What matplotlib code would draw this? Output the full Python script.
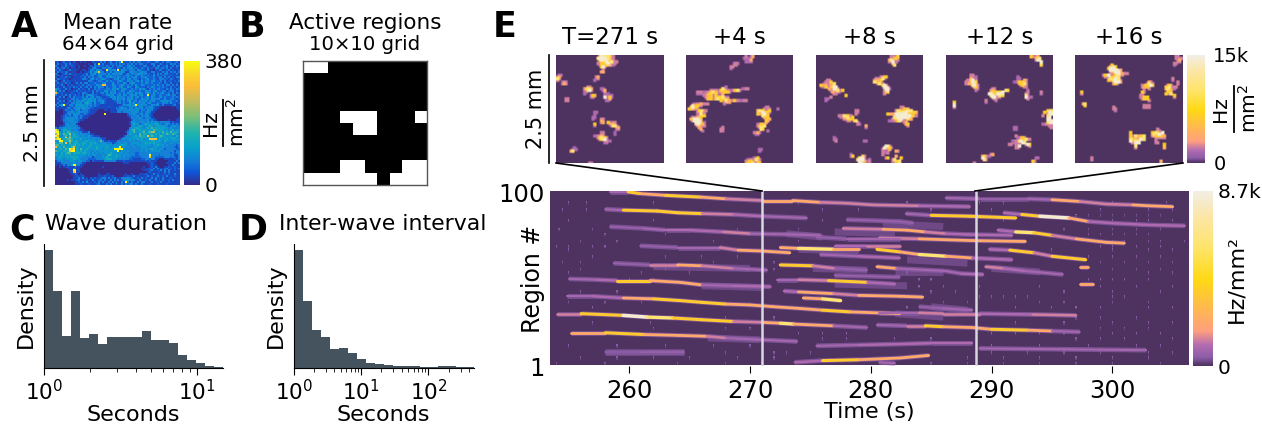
import numpy as np
import matplotlib
matplotlib.use("Agg")
import matplotlib.pyplot as plt
from matplotlib.colors import LinearSegmentedColormap, Normalize
from matplotlib.cm import ScalarMappable
from matplotlib.collections import LineCollection
from matplotlib.lines import Line2D

W, H = 1262, 425

# ---------- Panel A: mean rate, 64x64, digit 0-9 read by eye ----------
MEAN_RATE_ROWS = [
"1201311202100101000211131302311314912131413312132113311313321231",
"1311131311010000010031913111322313231324131331211331123112142312",
"3102131121101001002132322132131323312342311213311131331224113132",
"1312312011101000011342113324321132142334232132131213312323131121",
"2131101311110011013324431193334192433233314322131102133112312112",
"1312132011100101124245833132423333431134332343311331211323132313",
"3101231311211112313342433324243434312423334433322131313133212131",
"1312102011111131323412342243423232224342133242132242311321131211",
"2012131201111213132322342233433243232423342233422231233132312133",
"1321211011111133213423234322123342332342332132342232133322132112",
"3101312111211111133212332242322234322433234242332342223131221213",
"1312131201131313312232223422242132243134422232432322232132131121",
"2113102121112131232224338822243223432323242243222232422313313131",
"1211311213121312313132433132234223422432143222132432232322131212",
"4321131201113121131132322233243442343223232434213232342213232132",
"5131301112131212121313222442334122432243322322433234222331233121",
"8312111121112133211312133242434223232433243432353242323422313132",
"3112131312312131344322112234342234243234342342292342233223423312",
"1131301313222232423423321122434243332334234232342432234232223232",
"1311112133132234344342332211134243342434232243342433342242233212",
"1131301313234343444342334211112333232352332433423342223434332231",
"1312112133243424543242234211111133232243423334234222322333242212",
"3134921332344443433232211111111111243443494343422433411311112311",
"1313111232433443424232111112111113322243432432234321111000001011",
"1111113313344344332211111111111323433234243342333421100000000011",
"1100132232434233321111000110111133333343434233243311000000000001",
"0000113343234333321110000000111133233334343232343110000000000000",
"0000123424343223211100000900000000000233432342432100000000000000",
"0001232323432321110000000000000000000123334233342100000000000000",
"0001234343342311100000000000000000000013333432333110000000000001",
"0001333434232110000000000000000000000002433333342321000000100011",
"0000233343431000000000000000000000000014433343343434323333312111",
"0000134334310000000000000000000000000013544234544445433234323232",
"0011234343331000000000000000000000000004434543445434544443234433",
"3133443434433100000000000000000000000034455443454645454544343333",
"9724554433432110000000000000000000000145644545445465545444345344",
"9943546544343311130000000000000000001344644456456774454645464554",
"7954655745443433331100000000000000000354443645545545454546546543",
"9843564645544343343211100000000000013434454655485654456544444354",
"6945485754554444443343311100000000134344544455545445455454454543",
"8994556654444534343433331100000001343444445453448888454445445444",
"4499555754554444544443463112111133333343433444444554454354434443",
"5466484645554455445454344433312434344334444344545454444343343334",
"6645544555645454445444444444434344544334334444444344544434333323",
"8554645468454444454445444454344449343433433344433344433433333213",
"4455465989454644544445443444449999943333333343444544344323333322",
"6544555899454545443343444444444493443433333343433444443333333133",
"4445456645555455443434343444544434434333322333334333333333323233",
"5445454544544444343443334346544544343433322333339333323333333113",
"3454445455454433333133334454444544343332222233338332222233323213",
"3444344445544333322223333455544433333322111122332331100011111213",
"1334333444334433220211111333333111121111111111212111000000111131",
"1113343334433311000000000000000000011100000000011210000001111313",
"1011313349933110000000000000000000000000000000001211000000113111",
"0010112111311100000000001000000000000000000001001213100011211211",
"0000001113111000000000000000000000000000000010112131311123121213",
"0000000119911000000000000000000000000000000001112311213131311211",
"0000000118911000000000000000000000000000000000012111121131311111",
"0000000011310100000000100011000000001001000111211131211121211311",
"0000000001121120000000111211120000011211311111131211311213111211",
"0000000001113131102121123313123111333332112131211313121311121111",
"0000001011123111211311231311313131234433311311213113121311213111",
"0000000000112131411121313113131311319313113133111311213111211111",
"0000000000111211121112311131311311313233131131112111211112111111",
]
RATE_STEPS = [0, 27, 50, 76, 105, 140, 185, 235, 300, 375]

# ---------- Panel B: active-region cells (row from top, column) ----------
INACTIVE_CELLS = [(0, 0), (0, 1), (4, 3), (4, 4), (4, 5), (4, 9), (5, 4), (5, 5),
                  (8, 3), (8, 4), (8, 8), (8, 9),
                  (9, 0), (9, 1), (9, 2), (9, 3), (9, 4), (9, 5), (9, 7), (9, 8), (9, 9)]

# ---------- Panels C, D: histograms ----------
DURATION_EDGES = [1, 1.144, 1.309, 1.497, 1.713, 1.96, 2.242, 2.565, 2.934, 3.357, 3.84,
                  4.393, 5.026, 5.75, 6.578, 7.525, 8.609, 9.849, 11.27, 12.89, 14.75]
DURATION_DENSITY = [353, 230, 95, 230, 89, 101, 71, 92, 92, 92, 92, 110, 83, 83, 74, 38, 23, 14, 5, 2]
INTERVAL_EDGES = [1, 1.36, 1.85, 2.51, 3.42, 4.65, 6.32, 8.59, 11.7, 15.9, 21.6,
                  29.4, 40, 54.4, 73.9, 100.5, 136.7, 185.8, 252.6, 343.5, 467]
INTERVAL_DENSITY = [353, 200, 113, 92, 56, 59, 44, 26, 14, 11, 8, 5, 4, 3, 2, 2, 5, 5, 2, 2]

# ---------- Panel E snapshots: (row, first column, digits), blank = background ----------
SNAP_271 = [(0,25,"69 8 87 5"),(1,24,"89579886"),(2,25,"7988675 5"),(3,26,"56 9 78 45"),(4,24,"5 767 96545"),
 (5,25,"4 677 634"),(6,26,"795"),(7,27,"5"),(9,26,"66"),(12,23,"56"),(13,23,"45"),(14,22,"4"),
 (11,1,"44"),(12,0,"56"),(13,0,"85"),(14,0,"5"),(15,3,"454"),(16,3,"565"),
 (18,18,"55"),(19,16,"57876"),(20,16,"45795"),(21,16,"44"),(22,16,"4"),(23,20,"576"),(24,20,"45"),(25,5,"55"),(26,5,"55"),
 (19,26,"44"),(20,27,"46"),(21,28,"5"),(22,28,"4 3"),(23,28,"4 4 4"),(24,28,"9 574"),(25,29,"4 6"),(26,29,"44"),
 (33,22,"44"),(34,22,"4"),(36,21,"44"),(37,21,"4"),(37,26,"55"),(38,26,"65"),(39,26,"56"),(40,22,"7"),(41,22,"3"),
 (39,30,"7 455"),(40,31,"4665"),(41,32,"4884"),(42,35,"56"),(43,35,"45"),(45,34,"3"),(46,34,"3"),
 (45,26,"55"),(46,26,"45"),(47,22,"44556"),(48,24,"578 75"),(49,25,"57894"),(50,28,"4544"),(51,28,"44"),
 (54,10,"3"),(55,9,"443"),(56,8,"68"),(63,19,"55")]
SNAP_275 = [(0,35,"5  46"),(1,34,"4  34"),(2,36,"4 6"),(3,35,"44 4"),(4,28,"454"),(5,28,"55"),(6,26,"55"),(7,26,"4"),
 (18,23,"4"),(19,21,"85"),(19,33,"4455"),(20,14,"5 554 777 5 4 6785"),(21,6,"5 5 4 5 68765 547 75"),(22,6,"4 4 45 775 7 4 6"),
 (23,10,"5 6 7"),(24,11,"55 75 767 85 4 "),(25,12,"6775 78 6 7 6"),(26,20,"75 8 65 7 5 4 55"),(27,22,"5 66"),(28,4,"4 5 6 5 5"),(28,22,"4"),
 (29,3,"856755"),(30,2,"69775"),(31,1,"76655"),(32,7,"78655"),(33,6,"5 7 5"),(34,7,"5855"),(35,6,"4 5 7"),
 (36,3,"5 56 7"),(37,2,"6799965"),(38,3,"599996"),(39,5,"9997 4"),(40,5,"69756"),(41,6,"55 45"),(42,7,"65"),(43,8,"6"),(44,9,"4"),
 (30,47,"45"),(31,46,"5454"),(32,42,"68 755 7"),(33,43,"5 967 4"),(34,42,"76 6976"),(35,45,"8577"),(36,46,"6 7"),(37,48,"66"),(38,47,"76"),(39,47,"6"),
 (31,54,"4"),(40,42,"4476 "),(41,42,"567 8"),(42,43,"58 "),(43,44,"87"),(44,48,"4"),(45,40,"5 64"),(46,41,"44"),
 (42,21,"5"),(43,20,"55"),(44,20,"54"),(55,43,"44"),(56,43,"4"),
 (60,40,"447"),(61,36,"4 5 58 5"),(62,35,"5 77 5 6"),(63,36,"75 85 47")]
SNAP_279 = [(0,44,"5 5 7"),(1,44,"5 67 "),(2,43,"6855 5"),(3,43,"559 5"),(4,45,"6"),(5,46,"8"),
 (12,38,"5577"),(13,35,"5 5584"),(14,34,"566 7"),(15,34,"8766"),(16,36,"5855"),(17,39,"795"),(18,40,"995"),(19,40,"5994"),(20,41,"79"),(21,40,"567"),(22,40,"5"),
 (14,6,"55"),(15,5,"5557"),(16,4,"45 5668"),(17,2,"7 66 56 7"),(18,3,"4 75 5799"),(19,7,"65 965"),(20,8,"5 6 8 57"),(21,9,"65 54"),(22,10,"55"),(23,17,"7"),(24,8,"5"),(25,5,"44"),(26,5,"4"),
 (32,23,"55"),(33,24,"4"),(34,23,"5"),(35,13,"55 8 755"),(36,14,"4 6 8 57"),(37,16,"5 67 7"),(38,18,"45  68"),(39,24,"5"),(40,24,"54"),(41,29,"6"),(42,29,"4"),
 (48,10,"4"),(49,10,"44"),(50,11,"5"),(50,28,"44"),
 (30,50,"55"),(31,51,"5766"),(32,47,"587 6658 8"),(33,48,"5788 9 7 676"),(34,42,"7 66 99 9 98 6 7"),(35,46,"6 8 999 99 7 5"),(36,46,"8 9 999 976"),(37,45,"5 7 99 5 7 6"),(38,43,"44455785"),(39,52,"56"),(40,53,"67"),(41,54,"5"),
 (53,41,"985"),(54,40,"96 75"),(55,39,"5 4 6"),(56,47,"65"),(57,39,"54 5"),(58,20,"4"),(58,39,"5"),(59,20,"47"),(59,27,"75"),(59,47,"6"),
 (60,25,"7995"),(61,24,"89995  4"),(62,25,"99764 5"),(63,26,"86  44"),(60,41,"57"),(60,50,"7"),(61,45,"58"),(62,45,"5 678"),(63,46,"576")]
SNAP_283 = [(0,50,"7 5 6"),(1,53,"678"),(2,53,"595"),(3,56,"9"),(4,56,"8"),(5,56,"7"),
 (11,14,"55"),(12,14,"55 4"),(13,14,"65"),(14,12,"5 7955"),(15,11,"55 4987"),(16,11,"5 66876"),(17,15,"8955"),(18,16,"675"),(19,17,"54"),(20,17,"4"),
 (19,27,"55"),(20,26,"56"),(20,35,"87"),(21,26,"67 77 79"),(22,25,"99 7 99 8"),(23,26,"89 5 857"),(24,27,"99 55"),(25,28,"55"),(26,23,"5"),(26,29,"4"),(27,23,"4"),
 (12,42,"4"),(13,42,"44"),(14,46,"65"),(15,40,"3 57776"),(16,43,"67785"),(17,44,"575"),(18,46,"55"),
 (20,48,"4"),(21,48,"5"),(22,47,"5"),(23,47,"84"),(24,47,"94 4"),(25,48,"5"),(21,56,"5"),(22,56,"4"),
 (27,4,"7"),(28,4,"8"),(29,4,"9"),(30,4,"5"),
 (32,60,"7 8"),(33,58,"75 9"),(34,61,"89"),(35,57,"5  8"),(36,60,"89"),(37,60,"99"),(38,60,"899"),(39,60,"789"),(40,57,"4 5"),(41,61,"55"),(42,62,"5"),
 (42,40,"44"),(43,40,"44"),(47,41,"5"),(48,42,"4 675"),(49,46,"6855"),(50,39,"4 5 897"),(51,39,"4 5 5 98"),(52,37,"55"),(52,47,"597"),(53,41,"549 "),(53,49,"5"),(54,41,"55"),
 (58,26,"56"),(59,21,"675 4"),(60,21,"974"),(61,22,"85"),(63,16,"5"),(60,53,"44"),(62,51,"75"),(63,52,"5")]
SNAP_287 = [(0,59,"55"),(1,59,"55 5"),(2,60,"56"),(3,61,"5"),(4,58,"55"),(5,58,"4"),
 (5,21,"7"),(6,20,"6787"),(7,19,"79997"),(8,20,"99999 6"),(9,20,"46 9995"),(10,23,"589665 5"),(11,16,"57 9 5 767 5"),(12,17,"55 6 7785"),(13,19,"58 79 8"),(14,19,"76 8 8 4"),(15,22,"59 96"),(16,22,"675"),
 (15,43,"65"),(16,42,"5855"),(17,39,"5 74 97"),(18,39,"56 75"),(19,43,"5"),(20,40,"5"),(21,39,"75"),(22,39,"5"),(23,38,"55"),(24,38,"5 7 7"),(25,39,"57 7"),(26,43,"5"),(29,40,"5 55"),(30,40,"5 55"),
 (13,57,"5"),(14,57,"4"),(15,60,"5"),(16,60,"5"),(17,54,"575"),(18,53,"768 5 5"),(19,53,"6875 4"),(20,54,"576"),(21,54,"776"),(22,53,"75 8"),(23,58,"7"),(24,58,"5"),
 (21,3,"7"),(22,3,"5"),(28,4,"68"),(29,5,"7"),(30,22,"5"),(31,22,"55"),(32,23,"4"),
 (45,32,"7"),(46,32,"6"),(47,32,"7 58 67 8"),(48,32,"6 55 66"),(49,32,"8 7 6 9 8"),(50,32,"96 8 8"),(51,33,"5 9 9"),(52,35,"7"),(53,35,"8"),(54,35,"5"),
 (43,48,"5"),(44,48,"55"),(45,45,"7 87 59"),(46,45,"68 795"),(47,45,"56 7 7 6"),(48,48,"555 5"),(49,47,"5"),(50,47,"5"),(51,47,"45"),(52,52,"7"),(53,52,"7"),(54,52,"6"),
 (60,9,"5"),(61,9,"5"),(62,50,"6"),(63,50,"4")]
SNAPSHOT_TITLES = ["T=271 s", "+4 s", "+8 s", "+12 s", "+16 s"]
SNAPSHOTS = [SNAP_271, SNAP_275, SNAP_279, SNAP_283, SNAP_287]

# Colour value of each digit, as a share of the colour bar's top
LEVELS = [0, 0.05, 0.07, 0.09, 0.11, 0.15, 0.25, 0.42, 0.7, 0.95]

# ---------- Panel E raster waves: read knots (time s, row from top, level) ----------
WAVES = [
 [(258.4,0,3),(259.9,0,7),(260.9,1,6),(263,2,7),(265.9,3,6),(268,4,5),(271.1,5,6),(273.5,5,6),(275.8,6,5),(278,6.5,5),(280.2,7.5,5),(284,8,4),(288.2,8.5,3)],
 [(258,10,3),(259.5,10.5,7),(262.3,11,7),(264,12,7),(266,12.5,5),(268.6,13,4),(271,14,3),(274.7,15,2)],
 [(258.4,20,2),(261.2,21,3),(263,22,4),(265,22,4),(267.8,23,5),(270,24,3),(273.6,24.5,3),(275.8,25,2)],
 [(260.9,31,2),(264,32,3),(267.5,32,5),(269,33.5,6),(271,34,6),(273.3,35,4)],
 [(258.7,41,2),(261.7,42,5),(264,42,6),(266,42.5,5),(268.6,44,3),(271.4,45,2)],
 [(255,50,3),(257.3,50.5,4),(259,51,7),(261.7,51,6),(264.2,52,6),(266,53.5,3),(268.6,54,4),(271.7,54.5,4)],
 [(254.8,60,3),(257,60,4),(259.5,61,6),(262,61.5,7),(264.2,62.5,7),(266,63.5,7),(268,64.5,6),(270,65,6),(271.9,66,6),(274.1,67,6),(276,68,7),(278.3,69,6),(282.4,70,4)],
 [(254,70,5),(256,70,7),(259.5,71,9),(261.5,72,8),(263.6,72.5,7),(266,73.5,7),(268.6,74.5,5),(271,75,6),(272.5,75.5,8),(273.6,76,6),(276.9,77,3),(279.7,78,2)],
 [(255.2,81,6),(258,81,7),(261.2,82,6),(264,82.5,6),(266.4,83,5),(268,84,3),(270.8,85,3),(273.9,86,2)],
 [(258,92,1),(261,92,2),(264.5,92,2)],
 [(273.7,98,4),(276,97,7),(279,96.5,6),(282.4,95.5,6),(284.8,94,4)],
 [(280.7,98,3),(282,98.5,3)],
 [(280.5,76.5,3),(283,77,5),(284.5,77,7),(286,77.5,6),(288.4,78,6),(290,79,7),(293,79.5,6),(295,80,3),(297.3,80.5,2)],
 [(275.5,88.5,3),(279,88,4),(282.4,87.5,4),(285,87,4),(288.4,87,3)],
 [(289,90,3),(296,90.5,3),(302.8,91,2)],
 [(286.2,3.5,3),(289,4,2),(293,4,3),(295,4.5,6),(297.3,5.5,5),(299.5,7,5),(301.7,7.5,6),(303,8,6),(305,8.5,4)],
 [(282.9,12.5,3),(285,13.5,7),(288.2,14,7),(292,15,5)],
 [(291,12,4),(292.5,13,7),(294,14,9),(296.4,15,6),(298,17,4),(300,18,4),(303,19,4),(306,19.5,3)],
 [(277.7,21,5),(281,21.5,6),(283,22,6),(284.5,23,5),(286.2,24,4),(288,24.5,4),(291.7,25,3)],
 [(290.5,22,4),(292,23,8),(293.5,23.5,7),(295,25,5),(297,27,6),(299.5,29,6),(301,29.5,3)],
 [(280.7,26.5,5),(284,27,6),(288.4,28,6),(292.8,28.5,4)],
 [(272.5,32,6),(274,32.5,8),(276.9,33,6),(279,33,3)],
 [(277,31,4),(279.7,31,5),(282.4,31,5)],
 [(280.5,33,7),(282.4,34.5,6),(284,36,8),(286.2,37,6),(288.4,38,4),(291.7,39,2)],
 [(289.8,33,4),(291.5,33.5,7),(293.5,35,5),(295,37,7),(297.8,39,6)],
 [(275.8,36,3),(279,37,4),(282.4,38,3)],
 [(272.5,42,7),(275.2,42.5,5),(277,44,2),(279.7,45,2)],
 [(280.5,43,6),(282.1,44,3),(286.2,45.5,3),(287.5,47,4),(289.3,47.5,3)],
 [(289.5,43,5),(291,44,4),(292.8,45.5,3),(295.9,47.5,4)],
 [(272.2,50.5,3),(274,50.5,5),(276.5,51,7),(279.7,52,4),(282,53,3)],
 [(277,48,2),(282.4,49,3)],
 [(272.8,57,4),(274,57.5,6),(276.9,58.5,5),(279,59.5,6),(282.4,60,6),(284.3,60.5,3)],
 [(274.4,61,6),(276,61.5,8),(277.5,62.5,5)],
 [(284,66,2),(286,67,3),(288.4,68,3)],
 [(280.7,69.5,3),(284,69.5,5),(286,70,5),(289,70,4),(293.4,70.5,5),(297,71,2)],
 [(275.5,26,2),(278,27,3),(282.4,27,5)],
 [(278,16,2),(282.4,17,2),(283.5,18,2)],
 [(297.3,43,6),(298,43,5)],
 [(297.3,53,6),(298.4,53,5)],
]
# Wide faint purple patches around the streaks: (t0, row0, t1, row1)
FUZZ_BANDS = [(275.2,44,279.7,45),(274,33,279,34),(277,53,283,54),(282,46,286,46),(258,92,264.5,92),
              (266.5,84,270.8,85),(282,70,286,72),(273,24,276,26),(283,39,288,41),(277,23,282,24),
              (266,54,271,55),(262,43,270,44),(290,44,294,46),(281,18,286,20),(285,66,288,68)]
# Faint specks in the raster: (row from top, times in s)
SPECK_ROWS = [
 (6,[255,256.5,262,274,277,283,289,291,300,304.5]), (10,[254.5,256.5,276,279,285,290,299,303,305]),
 (13,[297,298,299,300,301,302,303,304]), (16,[255,262,276,291,298,300,302,303,305]),
 (21,[254.2,257,269,274,296,298,300,302,304]), (24,[258,263,272,298,299,300,301,302,303]),
 (28,[256,259,267,274,300,301,303,304,306]), (31,[254,255,257,258,299,300,302,304]),
 (33,[255,295,300,303,305]), (37,[257,263,266,269,298,300,302,304]), (40,[254.5,256,267,272,299,301,303,305]),
 (44,[256,263,272,300,302,304]), (46,[255,261,265,283,303,305]), (50,[260,262,284,285,298,299,300,301,303]),
 (54,[284,286,289,294,299,302,305]), (57,[256,259,285,287,296,300,304]), (60,[289,290,291,292,293,300,301]),
 (63,[255,258,261,286,288,294,296,300,303]), (66,[257,283,292,295,297,299,303,305]),
 (72,[264,268,272,297,299,302]), (75,[257,261.8,292,296,300,303,305]), (78,[262,268,270,299,301,303]),
 (81,[274,276,278,290,292,294,296,300,302,304]), (84,[276,278,282,285,297,299,301,305]),
 (88,[255,259,263,267,270,290,294,298,302,304]), (92,[268,272,273,275,290,293,296,299,303,305]),
 (95,[256,259,262,265,269,272,288,291,294,297,300,303]), (98,[254,258,264,268,271,285,288,291,294,297,300,304]),
]
TICKS_T = [260, 270, 280, 290, 300]
SNAPSHOT_WINDOW_S = [271.02, 288.7]

# ---------- Helpers ----------
def rect(x0, y0, x1, y1):
    return [x0 / W, 1 - y1 / H, (x1 - x0) / W, (y1 - y0) / H]

def fx(x):
    return x / W

def fy(y):
    return 1 - y / H

parula = LinearSegmentedColormap.from_list("parula_like", [
    (0.0, "#352a87"), (0.1, "#0f55d8"), (0.2, "#1480d6"), (0.3, "#07a0cc"), (0.42, "#1fb3ad"),
    (0.55, "#7bbf7a"), (0.68, "#c5bc5c"), (0.8, "#fbbd3a"), (0.9, "#f8d82a"), (1.0, "#f9fb0e")])
heat = LinearSegmentedColormap.from_list("heat_like", [
    (0.0, "#4e3360"), (0.012, "#5a3a6e"), (0.045, "#8a5ca6"), (0.12, "#b56cb0"), (0.2, "#ff9f7d"),
    (0.3, "#ffb35a"), (0.49, "#ffd814"), (0.67, "#ffe468"), (0.86, "#fbe6a8"), (1.0, "#f1eee5")])
BAR = "#45535e"

fig = plt.figure(figsize=(W / 100, H / 100), dpi=100)

# Panel A
axA = fig.add_axes(rect(55, 61, 180, 185))
mean_rate = np.array([[RATE_STEPS[int(c)] for c in r.ljust(64, "1")[:64]] for r in MEAN_RATE_ROWS], dtype=float)
axA.imshow(mean_rate, cmap=parula, vmin=0, vmax=380, aspect="auto", interpolation="nearest")
axA.axis("off")
caxA = fig.add_axes(rect(184, 61, 200, 185))
cb = fig.colorbar(ScalarMappable(Normalize(0, 380), parula), cax=caxA)
cb.outline.set_visible(False)
cb.set_ticks([0, 380], labels=["0", "380"])
cb.ax.tick_params(length=0, labelsize=14.5, pad=3)

# Panel B
axB = fig.add_axes(rect(303, 61, 427, 185))
active = np.zeros((10, 10))
for r_, c_ in INACTIVE_CELLS:
    active[r_, c_] = 1
axB.imshow(active, cmap="gray", vmin=0, vmax=1, aspect="auto", interpolation="nearest")
axB.set_xticks([])
axB.set_yticks([])
for s in axB.spines.values():
    s.set_color("#555555")
    s.set_linewidth(1.0)

# Panels C, D
def hist_panel(box, edges, heights):
    ax = fig.add_axes(rect(*box))
    ax.stairs(np.array(heights) / heights[0], edges, fill=True, color=BAR)
    ax.set_xscale("log")
    ax.set_xlim(1, edges[-1])
    ax.set_ylim(0, 1.048)
    ax.set_yticks([])
    ax.spines["top"].set_visible(False)
    ax.spines["right"].set_visible(False)
    ax.tick_params(axis="x", which="major", length=5, labelsize=15.5, pad=3)
    ax.tick_params(axis="x", which="minor", length=3)
    ax.set_xlabel("Seconds", fontsize=16, labelpad=1)
    ax.set_ylabel("Density", fontsize=16, labelpad=6)
    return ax

axC = hist_panel((44, 244, 223, 367.5), DURATION_EDGES, DURATION_DENSITY)
axD = hist_panel((294, 244, 473.5, 367.5), INTERVAL_EDGES, INTERVAL_DENSITY)

# Panel E snapshots
snap_boxes = [(556, 664), (686, 793), (816, 923), (946, 1053), (1075, 1183)]
for box, cells, title in zip(snap_boxes, SNAPSHOTS, SNAPSHOT_TITLES):
    ax = fig.add_axes(rect(box[0], 55, box[1], 163))
    grid = np.zeros((64, 64))
    for row, col, digits in cells:
        for k, ch in enumerate(digits):
            if ch != " " and col + k < 64:
                r0, c0 = row, col + k
                grid[r0:r0 + 2, c0:c0 + 2] = np.maximum(grid[r0:r0 + 2, c0:c0 + 2], LEVELS[int(ch)] * 15000)
    ax.imshow(grid, cmap=heat, vmin=0, vmax=15000, aspect="auto", interpolation="bilinear")
    ax.axis("off")
    fig.text(fx((box[0] + box[1]) / 2), fy(37), title, ha="center", va="center", fontsize=16.5)

caxS = fig.add_axes(rect(1187, 55, 1205, 163))
cb = fig.colorbar(ScalarMappable(Normalize(0, 15000), heat), cax=caxS)
cb.outline.set_visible(False)
cb.set_ticks([0, 15000], labels=["0", "15k"])
cb.ax.tick_params(length=0, labelsize=14, pad=6)

# Panel E raster
T0, T1 = 253.43, 306.35
DT = 0.1
n_t = int(round((T1 - T0) / DT))
raster = np.zeros((100, n_t))
for row, times in SPECK_ROWS:
    for t in times:
        i = int((t - T0) / DT)
        if 0 <= i < n_t - 1:
            raster[row, i] = LEVELS[1] * 8700
            raster[row + 1, i] = 0.025 * 8700

axE = fig.add_axes(rect(550, 191, 1189, 366))
axE.imshow(raster, cmap=heat, vmin=0, vmax=8700, aspect="auto", interpolation="nearest",
           extent=[T0, T1, 100, 0])
norm = Normalize(0, 8700)
faint = heat(norm(LEVELS[1] * 8700))
halo_segs, core_segs, core_cols, core_lw = [], [], [], []
for wave in WAVES:
    for (t0, r0, l0), (t1, r1, l1) in zip(wave[:-1], wave[1:]):
        seg = [(t0, r0 + 0.5), (t1, r1 + 0.5)]
        halo_segs.append(seg)
        core_segs.append(seg)
        core_cols.append(heat(norm(LEVELS[l0] * 8700)))
        core_lw.append(1.0 + 0.17 * l0)
fuzz_segs = [[(a, b + 0.5), (c, d + 0.5)] for a, b, c, d in FUZZ_BANDS]
axE.add_collection(LineCollection(fuzz_segs, colors=[faint], linewidths=5.0, alpha=0.55, capstyle="butt"))
axE.add_collection(LineCollection(halo_segs, colors=[faint], linewidths=3.4, alpha=0.75, capstyle="butt"))
axE.add_collection(LineCollection(core_segs, colors=core_cols, linewidths=core_lw, capstyle="round"))
axE.set_xlim(T0, T1)
axE.set_ylim(100, 0)
for t in SNAPSHOT_WINDOW_S:
    axE.axvline(t, color="#d8d8de", lw=1.8, zorder=5)
for s in axE.spines.values():
    s.set_visible(False)
axE.set_xticks(TICKS_T)
axE.set_yticks([0.6, 100.6], labels=["100", "1"])
axE.tick_params(axis="x", length=5, width=0.8, labelsize=17.5, pad=4)
axE.tick_params(axis="y", length=0, labelsize=17.5, pad=4)
fig.text(fx(869), fy(412), "Time (s)", ha="center", va="center", fontsize=16)
fig.text(fx(533), fy(279), "Region #", rotation=90, ha="center", va="center", fontsize=17)

caxR = fig.add_axes(rect(1193, 191, 1213, 366))
cb = fig.colorbar(ScalarMappable(Normalize(0, 8700), heat), cax=caxR)
cb.outline.set_visible(False)
cb.set_ticks([0, 8700], labels=["0", "8.7k"])
cb.ax.tick_params(length=0, labelsize=14.5, pad=3)
fig.text(fx(1236), fy(279), "Hz/mm²", rotation=90, ha="center", va="center", fontsize=16)

# Titles and labels
fig.text(fx(118), fy(23), "Mean rate", ha="center", va="center", fontsize=15.5)
fig.text(fx(118), fy(45), "64×64 grid", ha="center", va="center", fontsize=14.2)
fig.text(fx(365), fy(23), "Active regions", ha="center", va="center", fontsize=15.5)
fig.text(fx(365), fy(45), "10×10 grid", ha="center", va="center", fontsize=14.2)
fig.text(fx(45), fy(224), "Wave duration", ha="left", va="center", fontsize=16)
fig.text(fx(279), fy(224), "Inter-wave interval", ha="left", va="center", fontsize=15.8)
for letter, x, y in [("A", 24, 27), ("B", 252, 27), ("C", 22, 230), ("D", 253, 230), ("E", 505, 27)]:
    fig.text(fx(x), fy(y), letter, ha="center", va="center", fontsize=25, fontweight="bold")

def px_line(x0, y0, x1, y1, lw=1.2):
    fig.add_artist(Line2D([fx(x0), fx(x1)], [fy(y0), fy(y1)], color="black", lw=lw))

# Rotated Hz over mm² labels
for x_hz, x_bar, x_mm, y_mid in [(211, 222.7, 237, 123), (1221, 1234, 1249, 109)]:
    fig.text(fx(x_hz), fy(y_mid), "Hz", rotation=90, ha="center", va="center", fontsize=14.5)
    fig.text(fx(x_mm), fy(y_mid), "mm$^2$", rotation=90, ha="center", va="center", fontsize=14.5)
    px_line(x_bar, y_mid - 23, x_bar, y_mid + 23, lw=1.3)

fig.text(fx(32), fy(123), "2.5 mm", rotation=90, ha="center", va="center", fontsize=14.5)
fig.text(fx(536), fy(109), "2.5 mm", rotation=90, ha="center", va="center", fontsize=15)

px_line(44, 60, 44, 186)
px_line(548.7, 55, 548.7, 163)
px_line(556, 163, 762, 191)
px_line(1183, 163, 975, 191)

fig.savefig("out.png", dpi=100)
